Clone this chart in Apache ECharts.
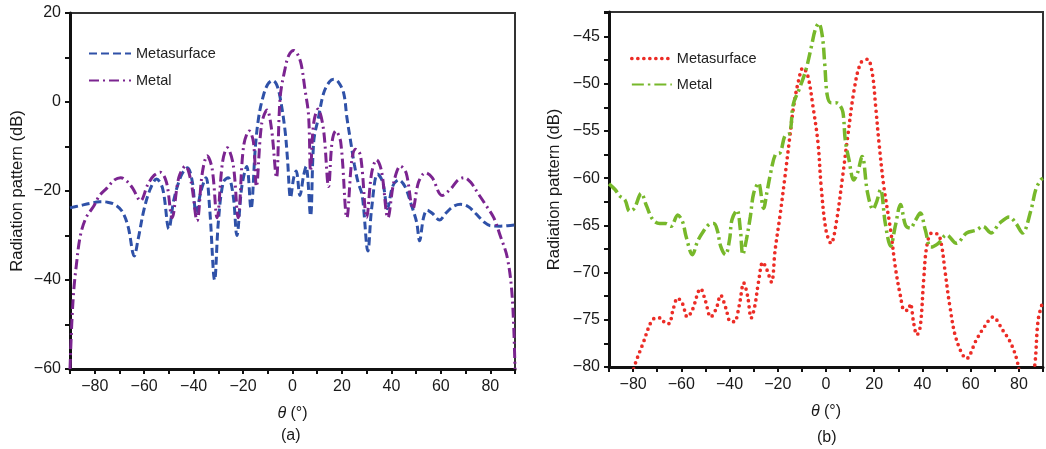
<!DOCTYPE html>
<html>
<head>
<meta charset="utf-8">
<script src="https://cdn.jsdelivr.net/npm/echarts@6/dist/echarts.min.js"></script>
<style>
  html, body { margin: 0; padding: 0; background: #fff; }
  #chart { width: 1046px; height: 449px; }
</style>
</head>
<body>
<div id="chart"></div>
<script>
// (a) theta (deg) vs radiation pattern (dB)
const metasurfaceA = [
  [-90, -23.8], [-86, -23.3], [-82, -22.8], [-78, -22.4], [-75, -22.5], [-72, -23.0],
  [-69, -24.5], [-66.5, -28], [-64, -34.6], [-62.5, -31], [-60, -24], [-57.5, -19.5],
  [-55, -17.3], [-52.5, -19.5], [-50, -28.5], [-48, -22], [-45, -16.5], [-42.5, -14.8],
  [-40.5, -18], [-39, -25], [-37, -20], [-35, -17], [-33.5, -24], [-31.5, -40],
  [-30, -27], [-28, -18], [-26, -17], [-24, -21], [-22.5, -30], [-20.5, -19],
  [-18.5, -14.5], [-16.8, -24], [-15, -10], [-13.7, -3.5], [-12, 1], [-10, 4],
  [-8, 4.8], [-6.5, 4], [-5, 1], [-3, -6.5], [-2, -13], [-0.8, -21.5],
  [0.5, -17], [1.5, -15.5], [3, -21], [4.5, -16.5], [5.5, -14.5], [7.3, -25.6],
  [8.6, -8.8], [10.5, -3.5], [12.6, 2], [15, 4.6], [16.7, 5.1], [18.5, 4.5],
  [20.7, 2], [22, -3.5], [23.5, -8.8], [25, -14], [26.5, -18], [28.2, -21],
  [30.5, -33.5], [32, -24], [34.4, -16.2], [36.5, -18], [38.4, -24], [40.5, -19],
  [43, -17.5], [45.5, -19], [48, -23], [50.2, -27], [51.4, -31.2], [53, -26],
  [54.5, -24.3], [56.5, -25], [59.5, -26.5], [62, -25], [65, -23.5], [68, -23],
  [71, -23.5], [74, -25], [77.5, -27], [80, -27.8], [84, -27.9], [87, -27.8], [90, -27.6]
];
const metalA = [
  [-90, -60], [-89.3, -50], [-88.5, -42.5], [-87.5, -37], [-85.8, -30], [-83.5, -26],
  [-80.5, -23.5], [-78, -21], [-75, -19.3], [-72, -17.5], [-69.5, -17], [-67, -17.8],
  [-64.5, -19.5], [-61.5, -22.2], [-58.5, -18.5], [-56, -16.5], [-53.5, -15.8], [-51, -18],
  [-48.7, -26], [-46, -17], [-43.3, -14.4], [-41, -18], [-38.6, -26.7], [-36.5, -16],
  [-34.5, -12.1], [-32.5, -15], [-30.5, -26], [-28.3, -13.5], [-26.4, -10.3], [-24, -14],
  [-22, -26], [-19.8, -10], [-17.5, -6.5], [-15.8, -9], [-14.6, -19], [-12.5, -5],
  [-10.3, -1.8], [-8.5, -6], [-6.5, -17], [-5, 1], [-3, 7.5], [-1.5, 10.5],
  [0.5, 11.6], [2, 10.8], [3.5, 8.5], [5, 3], [6.5, -3], [7.3, -15.5],
  [8.5, -5], [10.3, -1.6], [12.5, -6], [14.6, -19], [16, -9], [17.5, -6.5],
  [19.5, -9], [22, -26], [24, -13], [25.5, -10.6], [27.5, -12], [30, -26],
  [32, -16], [34, -13], [36, -15.5], [38.6, -26], [41, -18], [43.7, -14.4],
  [46, -16], [48.7, -24], [51, -18], [53.8, -15.9], [56.5, -17], [60.5, -21],
  [64, -19.5], [67, -17.5], [69.5, -17], [72, -18], [75, -20.5], [78, -23],
  [81.4, -26], [84, -30], [86.9, -35], [88.9, -44], [90, -60]
];

// (b)
const metasurfaceB = [
  [-90, -88], [-84, -84], [-79.3, -79.8], [-75.9, -77.5], [-72.5, -75.2], [-70.5, -74.8],
  [-68.5, -74.8], [-66.5, -75.4], [-65, -75.4], [-63.6, -74.1], [-61.5, -72.7], [-59.5, -73.3],
  [-57.5, -74.7], [-55.5, -74], [-52, -71.7], [-50, -73], [-47.8, -74.7], [-45.5, -73.8],
  [-43.7, -72.4], [-41.5, -73.8], [-39.6, -75.2], [-38, -75.2], [-36, -73.5], [-34.1, -71.1],
  [-32.5, -72.5], [-31, -74.8], [-29.5, -73.5], [-28, -71], [-26.2, -68.9], [-24.5, -69.7],
  [-22.6, -71], [-21.1, -67.6], [-19.1, -64], [-17, -59.8], [-15, -55.6], [-13.6, -52.7],
  [-11.6, -49.9], [-9.5, -48.3], [-7.5, -49.2], [-5.4, -52.4], [-3.3, -56.3], [-2, -60.9],
  [0, -65.5], [2.1, -66.9], [4.2, -64.8], [6.9, -59.8], [9, -55.6], [11.7, -50.6],
  [14.4, -47.8], [17.2, -47.4], [19.2, -48.9], [20.6, -52.4], [22, -56.3], [24, -60.9],
  [26.8, -65.5], [28.8, -69.5], [30.9, -72.5], [32.5, -74], [34, -74], [35, -73.3],
  [36.4, -75.4], [37.7, -76.6], [39.1, -75.7], [40.5, -70.8], [41.8, -67.2], [43.9, -65.8],
  [46.6, -66], [48, -67.2], [49.3, -69.7], [51.4, -73.6], [54.1, -77.1], [58.3, -79.1],
  [62.4, -77.1], [65.8, -75.7], [69.2, -74.7], [73.3, -76.1], [76.7, -77.5], [79.5, -79.6],
  [83, -85], [86.5, -80], [88, -75], [90, -73]
];
const metalB = [
  [-90, -60.6], [-87.5, -61.2], [-85.5, -61.9], [-83.4, -62.3], [-81.4, -63.5], [-79.5, -63.2],
  [-76.6, -61.6], [-74.5, -62.9], [-71.8, -64.4], [-69, -64.8], [-66.5, -64.8], [-64.3, -65.1],
  [-61.5, -63.9], [-59.5, -64.6], [-58, -66.2], [-55.4, -68.1], [-53.3, -66.7], [-51.3, -65.8],
  [-48.5, -64.9], [-46.5, -64.8], [-45, -65.6], [-43.7, -67.2], [-41.7, -68.1], [-40, -66.5],
  [-39, -64.4], [-36.9, -63.4], [-35.5, -65.5], [-34.5, -68.1], [-33, -66.5], [-31.4, -64.1],
  [-30, -61.6], [-28, -60.5], [-25.9, -63.2], [-24.5, -61.5], [-23, -59.5], [-21, -57.5],
  [-19, -57.3], [-17, -55.5], [-15, -55.2], [-13.6, -52.2], [-11, -50.5], [-8.3, -48.5],
  [-6, -46], [-4.5, -44.3], [-3, -43.6], [-1.5, -45], [-0.5, -48], [0.5, -51.2],
  [2, -52], [4, -52], [5.5, -52.2], [7, -53], [8, -56], [9.5, -58],
  [11.5, -60.2], [13, -59.5], [15, -57.7], [17.2, -61.5], [19.5, -63.3], [21, -62.5],
  [22.6, -61.2], [24.6, -64.8], [26.8, -67.2], [28.8, -65], [30.9, -62.8], [33, -65],
  [35, -65.3], [37, -64.5], [39.1, -63.7], [41.2, -65.5], [43.5, -67.3], [46.6, -66.9],
  [50, -66], [54.1, -66.9], [58.3, -65.8], [62.4, -65.5], [65.1, -65.1], [68.5, -65.8],
  [71.9, -64.8], [76, -64.1], [78.8, -64.8], [81.5, -65.8], [85, -63.4], [87, -61.2],
  [89, -60.2], [90, -60]
];

const FONT = '"Liberation Sans", Arial, sans-serif';
const minus = s => String(s).replace('-', '\u2212');

function labelEvery(step) {
  return v => (Math.abs(v / step - Math.round(v / step)) < 1e-6 ? minus(v) : '');
}

function xAxisFor(gridIndex) {
  return {
    type: 'value', gridIndex, min: -90, max: 90, interval: 10,
    name: '{i|\u03b8} (\u00b0)', nameLocation: 'middle', nameGap: 37,
    nameTextStyle: {
      fontFamily: FONT, fontSize: 16, color: '#1a1a1a',
      rich: { i: { fontStyle: 'italic', fontFamily: FONT, fontSize: 16, color: '#1a1a1a' } }
    },
    axisLine: { onZero: false, lineStyle: { color: '#111', width: 3 } },
    axisTick: { length: 5, lineStyle: { color: '#111', width: 2 } },
    axisLabel: { fontFamily: FONT, fontSize: 16, color: '#1a1a1a', margin: 10, formatter: labelEvery(20) },
    splitLine: { show: false }
  };
}

function yAxisFor(gridIndex, min, max, interval, step, gap) {
  return {
    type: 'value', gridIndex, min, max, interval,
    name: 'Radiation pattern (dB)', nameLocation: 'middle', nameGap: gap,
    nameTextStyle: { fontFamily: FONT, fontSize: 16.5, color: '#1a1a1a' },
    axisLine: { onZero: false, lineStyle: { color: '#111', width: 3 } },
    axisTick: { length: 5, lineStyle: { color: '#111', width: 2 } },
    axisLabel: { fontFamily: FONT, fontSize: 16, color: '#1a1a1a', margin: 9, formatter: labelEvery(step), showMaxLabel: true, showMinLabel: true },
    splitLine: { show: false }
  };
}

function curve(name, data, idx, color, type, width, cap) {
  return {
    name, type: 'line', data, xAxisIndex: idx, yAxisIndex: idx,
    symbol: 'none', smooth: 0.35, clip: true,
    lineStyle: { color, width, type, cap: cap || 'butt' },
    itemStyle: { color }
  };
}

const legendText = { fontFamily: FONT, fontSize: 14.5, color: '#222' };

const option = {
  animation: false,
  backgroundColor: '#fff',
  grid: [
    { left: 70, top: 13, width: 445, height: 356, show: true, borderColor: '#333', borderWidth: 2 },
    { left: 609, top: 12, width: 438, height: 355, show: true, borderColor: '#333', borderWidth: 2 }
  ],
  xAxis: [xAxisFor(0), xAxisFor(1)],
  yAxis: [
    yAxisFor(0, -60, 20, 10, 20, 44),
    yAxisFor(1, -80, -42.4, 2.5, 5, 46)
  ],
  legend: [
    {
      data: ['a:Metasurface', 'a:Metal'], orient: 'vertical', left: 83, top: 41,
      itemWidth: 42, itemHeight: 14, itemGap: 12, textStyle: legendText,
      itemStyle: { opacity: 0 }, formatter: n => n.slice(2), selectedMode: false
    },
    {
      data: [
        { name: 'b:Metasurface', lineStyle: { cap: 'round', width: 3.7, type: [0, 6], color: '#ec2c26' } },
        'b:Metal'
      ],
      orient: 'vertical', left: 625, top: 46,
      itemWidth: 40, itemHeight: 14, itemGap: 11, textStyle: legendText,
      itemStyle: { opacity: 0 }, formatter: n => n.slice(2), selectedMode: false
    }
  ],
  graphic: [
    { type: 'text', left: 281, top: 428, style: { text: '(a)', font: '16px ' + FONT, fill: '#1a1a1a' } },
    { type: 'text', left: 817, top: 430, style: { text: '(b)', font: '16px ' + FONT, fill: '#1a1a1a' } }
  ],
  series: [
    curve('a:Metasurface', metasurfaceA, 0, '#2f51a8', [8, 4], 3),
    curve('a:Metal', metalA, 0, '#7b2490', [10, 4, 2, 4], 3),
    curve('b:Metasurface', metasurfaceB, 1, '#ec2c26', [0, 6], 3.7, 'round'),
    curve('b:Metal', metalB, 1, '#77b82a', [12, 4, 2.5, 4], 3.5)
  ]
};

const chart = echarts.init(document.getElementById('chart'), null, { renderer: 'canvas' });
chart.setOption(option);
</script>
</body>
</html>
